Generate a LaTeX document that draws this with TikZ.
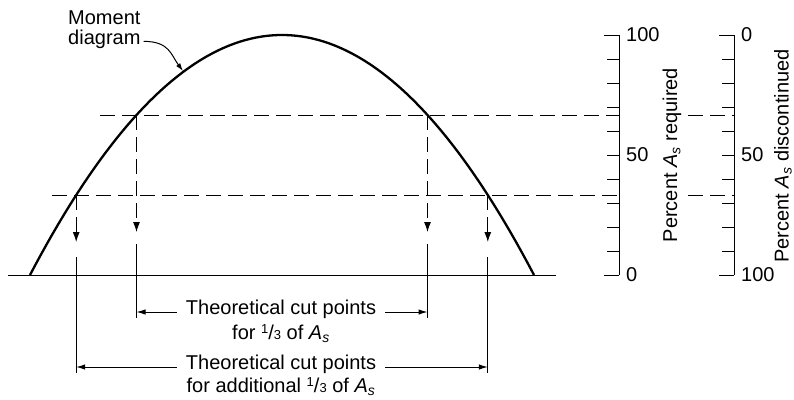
\documentclass[tikz,border=0pt]{standalone}
\usepackage{fontspec}
\setmainfont{Liberation Sans}
\usetikzlibrary{arrows.meta}
\newcommand{\As}{\textit{A}\textsubscript{\textit{s}}}
\newcommand{\onethird}{\raisebox{6pt}{\fontsize{13}{13}\selectfont 1}/{\fontsize{13}{13}\selectfont 3}}
\begin{document}
\begin{tikzpicture}[x=1pt,y=-1pt,
    every node/.style={inner sep=0pt,font=\fontsize{20}{22}\selectfont},
    fine/.style={line width=1pt},
    guide/.style={fine,dash pattern=on 15pt off 7pt},
    cutarrow/.style={-{Latex[length=10pt,width=7pt]}},
    dimarrow/.style={fine,-{Latex[length=9pt,width=5.5pt]}}]
\useasboundingbox (0,0) rectangle (794,399);
\coordinate (left) at (30,275);
\coordinate (right) at (534,275);
\draw[fine] (8,275)--(556,275);
\draw[line width=2.3pt] (left) .. controls (198,-45) and (366,-45) .. (right);
\coordinate (mtip) at (183,71);
\foreach \n/\x/\y/\tip/\ext/\stop in {iL/136.5/115/232/244/318, iR/427.5/115/232/244/318,
    oL/76.2/195/242/257/373, oR/487.8/195/242/257/373}{
    \coordinate (\n) at (\x,\y);
    \coordinate (\n tip) at (\x,\tip);
    \coordinate (\n ext) at (\x,\ext);
    \coordinate (\n end) at (\x,\stop);
    \draw[guide,cutarrow] (\n)--(\n tip);
    \draw[fine] (\n ext)--(\n end);
}
\draw[guide] (100,115)--(619,115);
\draw[guide] (52,195)--(619,195);
\draw[guide] (688,115)--(734,115);
\draw[guide] (688,195)--(734,195);
\foreach \n/\ax/\hi/\lo in {req/619/100/0, dis/734/0/100}{
    \draw[fine] (\ax,35)--(\ax,275);
    \foreach \k in {1,...,9}{
        \draw[fine] (\ax-12,35+24*\k)--(\ax,35+24*\k);
    }
    \draw[fine] (\ax-15,35)--(\ax,35);
    \draw[fine] (\ax-15,275)--(\ax,275);
    \node[anchor=west] (\n top) at (\ax+7,35) {\hi};
    \node[anchor=west] (\n mid) at (\ax+7,155) {50};
    \node[anchor=west] (\n bot) at (\ax+7,275) {\lo};
}
\node[rotate=90] (reqlabel) at (672,155) {Percent \As{} required};
\node[rotate=90] (dislabel) at (783,156) {Percent \As{} discontinued};
\node[anchor=base west] (moment) at (68,24) {Moment};
\node[anchor=base west] (diagram) at (68,44) {diagram};
\draw[fine,-{Latex[length=8pt,width=5pt]}] ([xshift=3pt]diagram.mid east) .. controls +(26,0) and +(-12,-16) .. (mtip);
\node[anchor=mid] (cutA) at (281,312) {Theoretical cut points};
\node[anchor=base] (cutAb) at (281,339) {for \onethird{} of \As};
\node[anchor=mid] (cutB) at (281,367) {Theoretical cut points};
\node[anchor=base] (cutBb) at (281,392) {for additional \onethird{} of \As};
\draw[dimarrow] ([xshift=-9pt]cutA.mid west) -- (cutA.mid west -| iL);
\draw[dimarrow] ([xshift=9pt]cutA.mid east) -- (cutA.mid east -| iR);
\draw[dimarrow] ([xshift=-9pt]cutB.mid west) -- (cutB.mid west -| oL);
\draw[dimarrow] ([xshift=9pt]cutB.mid east) -- (cutB.mid east -| oR);
\end{tikzpicture}
\end{document}
